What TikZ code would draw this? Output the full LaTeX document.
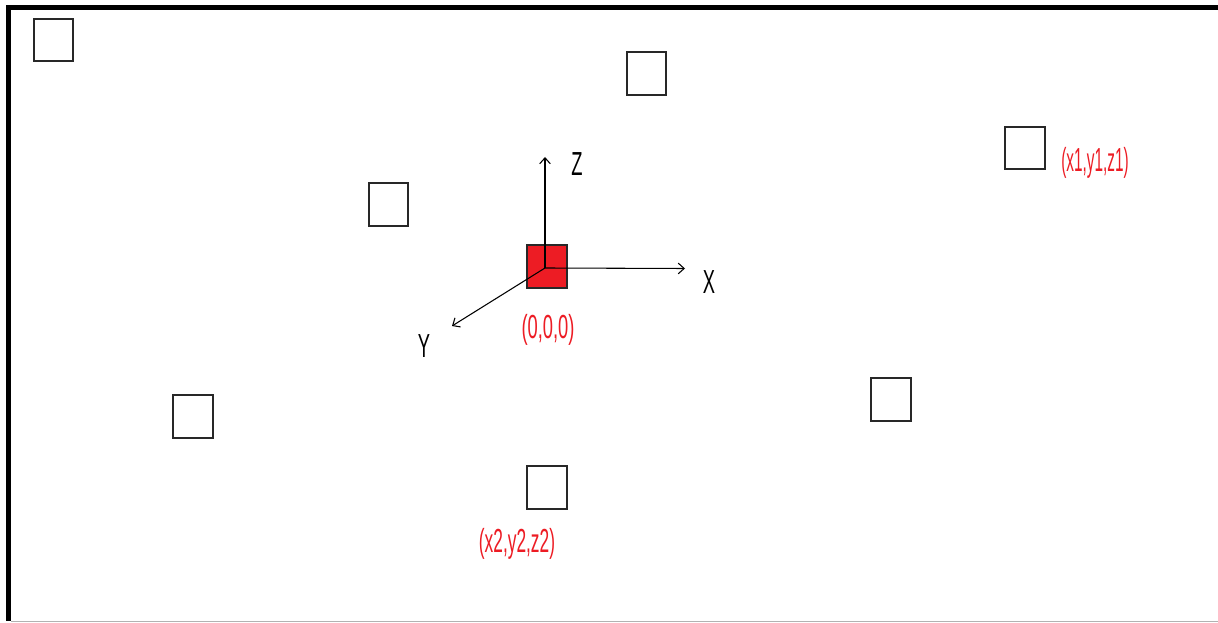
\documentclass[tikz,border=0pt]{standalone}
\usepackage{fontspec}
\setmainfont{Liberation Sans}
\usetikzlibrary{arrows.meta}
\definecolor{pred}{RGB}{237,28,36}
\definecolor{sqline}{RGB}{40,40,40}
\begin{document}
\begin{tikzpicture}[x=0.75pt,y=-0.75pt,
  sq/.style={draw=sqline,line width=1.3pt,fill=white},
  axis/.style={line width=0.8pt,-{Straight Barb[length=4.5pt,width=8pt]}},
  lbl/.style={inner sep=0pt,font=\fontsize{25}{25}\selectfont},
  coordlbl/.style={lbl,text=pred}]
\useasboundingbox (0,0) rectangle (1218,623);
\fill[white] (0,0) rectangle (1218,623);
% frame
\fill[black] (6,5) rectangle (1218,10);
\fill[black] (6,5) rectangle (11,621);
\draw[gray!60,line width=1.2pt] (11,621.5) -- (1218,621.5);
% squares
\path[sq] (34,19) rectangle (73,61) coordinate (s1);
\path[sq] (627,52) rectangle (666,95) coordinate (s2);
\path[sq] (1005,127) rectangle (1045,169) coordinate (s3);
\path[sq] (369,183) rectangle (408,226) coordinate (s4);
\path[sq] (173,395) rectangle (213,438) coordinate (s6);
\path[sq] (871,378) rectangle (911,421) coordinate (s7);
\path[sq] (527,466) rectangle (567,509) coordinate (s8);
\path[draw=sqline,line width=1.3pt,fill=pred] (527,245) rectangle (567,288) coordinate (s5);
% axes
\coordinate (o) at (545,268);
\coordinate (zend) at (545,157);
\coordinate (xend) at (685,268.5);
\coordinate (yend) at (452,326);
\draw[axis] (o) -- (zend);
\draw[axis] (o) -- (xend);
\draw[axis] (o) -- (yend);
% labels
\node[lbl] (lz) at (577,164) {\scalebox{0.55}[1]{Z}};
\node[lbl] (lx) at (709,282) {\scalebox{0.55}[1]{X}};
\node[lbl] (ly) at (424,346) {\scalebox{0.55}[1]{Y}};
\node[coordlbl] (l0) at (548,330) {\scalebox{0.55}[1]{(0,0,0)}};
\node[coordlbl] (l1) at (1095,163) {\scalebox{0.46}[1]{(x1,y1,z1)}};
\node[coordlbl] (l2) at (517,544) {\scalebox{0.52}[1]{(x2,y2,z2)}};
\end{tikzpicture}
\end{document}
